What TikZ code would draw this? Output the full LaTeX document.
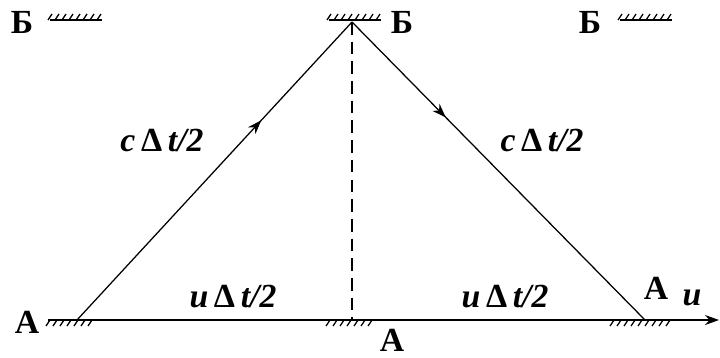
\documentclass[tikz,border=0pt]{standalone}
\usepackage{fontspec}
\setmainfont{Liberation Serif}
\usetikzlibrary{arrows.meta,positioning,decorations.markings}
\newcommand{\dlt}{\textup{Δ}}
\tikzset{
  lbl/.style={font=\fontsize{24}{28}\selectfont\bfseries\itshape,inner sep=1pt},
  pt/.style={font=\fontsize{24}{28}\selectfont\bfseries,inner sep=1pt},
  ray/.style={line width=0.9pt,postaction={decorate},
    decoration={markings,mark=at position #1 with {\arrow{Stealth[length=3.5mm,width=2.5mm]}}}},
  axis/.style={line width=1pt,-{Stealth[length=3.5mm,width=2.5mm]}},
  gndlow/.pic={
    \draw[line width=1.4pt] (-#1,0) -- (#1,0);
    \foreach \x in {-#1,-\fpeval{#1-7},...,#1}
      \draw[line width=0.9pt] (\x+2,0) -- (\x-2,6);
  },
  gndup/.pic={
    \draw[line width=1.4pt] (-#1,0) -- (#1,0);
    \foreach \x in {-#1,-\fpeval{#1-7},...,#1}
      \draw[line width=0.9pt] (\x-2,0) -- (\x+2,-6);
  }
}

\begin{document}
\begin{tikzpicture}[x=0.025cm,y=-0.025cm]
\useasboundingbox (0,0) rectangle (720,357);

% mirrors above
\pic at (76,20) {gndup=26};
\pic at (355,20) {gndup=26};
\pic at (646,20) {gndup=26};
\node[pt] (b1) at (22,22) {Б};
\node[pt] (b2) at (402,22) {Б};
\node[pt] (b3) at (590,22) {Б};

% ground
\pic at (72,320) {gndlow=24};
\pic at (352,320) {gndlow=24};
\pic at (642,320) {gndlow=30};
\coordinate (a1) at (77,320);
\coordinate (top) at (352,22);
\coordinate (a3) at (645,320);
\coordinate (base0) at (48,320);
\coordinate (base1) at (719,320);
\coordinate (foot) at (352,320);

\draw[axis] (base0) -- (base1);
\draw[ray=0.67] (a1) -- (top);
\draw[ray=0.32] (top) -- (a3);
\draw[line width=0.9pt,dash pattern=on 9pt off 5pt] (top) -- (foot);

\node[pt] (p1) at (27,322) {А};
\node[pt] (p2) at (392,340) {А};
\node[pt] (p3) at (656,288) {А};
\node[lbl] (vu) at (692,298) {u};

\node[lbl] (c1) at (162,140) {c\,\dlt\,t/2};
\node[lbl] (c2) at (542,140) {c\,\dlt\,t/2};
\node[lbl] (u1) at (233,297) {u\,\dlt\,t/2};
\node[lbl] (u2) at (505,297) {u\,\dlt\,t/2};
\end{tikzpicture}
\end{document}
